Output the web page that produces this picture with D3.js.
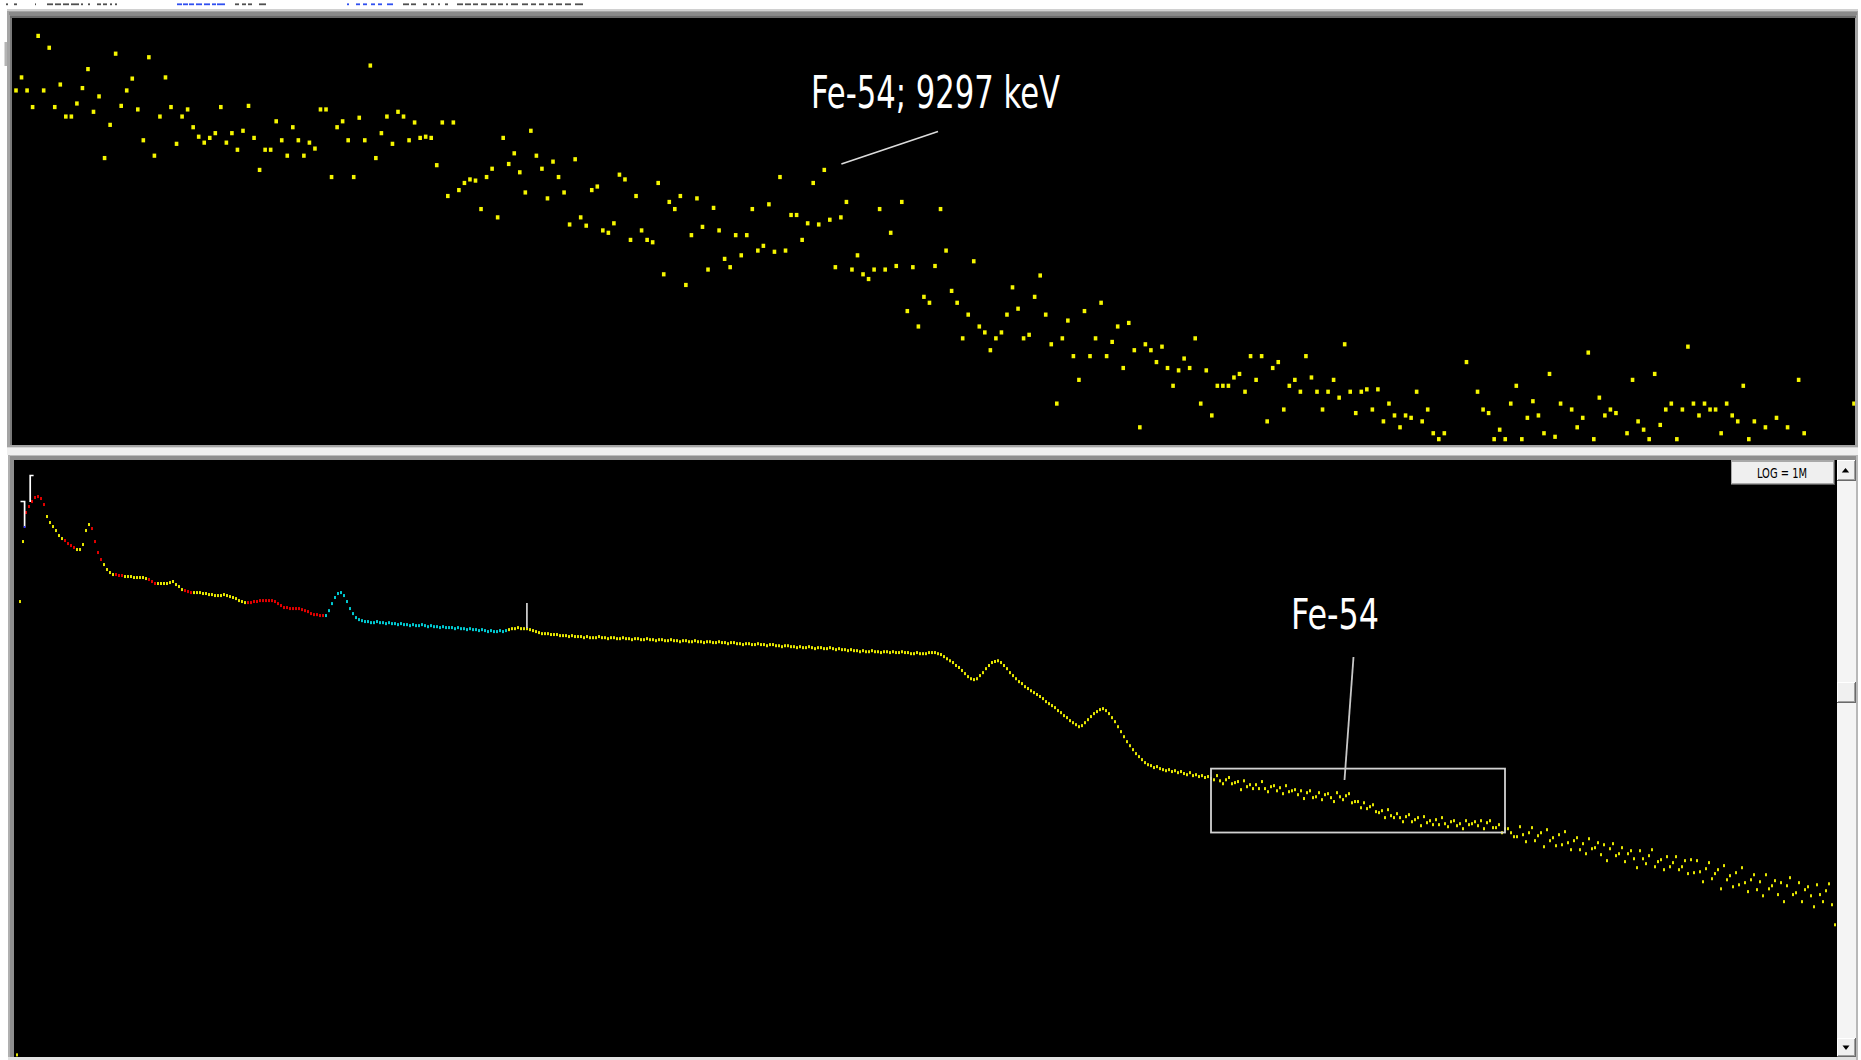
<!DOCTYPE html>
<html>
<head>
<meta charset="utf-8">
<script src="https://cdn.jsdelivr.net/npm/d3@7"></script>
<style>
  html, body { margin: 0; padding: 0; background: #ffffff; overflow: hidden; }
  svg { display: block; }
</style>
</head>
<body>
<svg id="chart" width="1861" height="1060"></svg>
<script>
// ---------------------------------------------------------------
// Data
// ---------------------------------------------------------------

// Expanded view: counts per channel in the Fe-54 window (linear scale)
const zoomCounts = [
  599,610,599,585,645,599,635,585,604,577,
  577,588,601,617,581,594,542,570,630,586,
  599,609,583,557,627,544,577,610,585,554,
  577,583,568,560,555,559,563,585,555,563,
  549,565,586,559,532,549,549,573,557,544,
  568,557,544,555,550,583,583,526,568,573,
  557,526,576,557,620,542,563,577,554,581,
  577,557,572,559,560,559,536,572,510,572,
  515,521,524,523,499,526,533,492,559,537,
  546,530,513,565,544,533,508,539,526,513,
  486,541,492,485,515,518,481,479,487,528,
  524,473,510,481,473,471,521,444,505,499,
  510,435,477,508,484,448,500,481,457,450,
  477,460,477,499,464,468,503,463,526,464,
  494,494,473,487,521,486,532,490,450,492,
  505,448,460,444,440,448,499,448,479,451,
  505,413,450,400,425,420,451,499,464,430,
  420,390,410,455,400,395,380,390,395,410,
  433,415,390,393,425,443,410,385,335,390,
  405,375,355,413,375,390,420,375,387,400,
  365,403,380,315,385,380,370,383,365,350,
  363,373,365,390,335,363,325,350,350,350,
  357,360,345,375,355,375,320,365,370,330,
  350,355,345,375,357,345,330,345,355,340,
  385,345,327,345,347,330,347,320,335,325,
  315,325,323,345,320,330,310,305,310,270,
  290,285,370,285,345,330,327,305,313,305,
  335,350,305,323,337,325,310,360,307,335,
  290,330,315,323,378,305,340,325,330,327,
  280,310,355,320,313,305,360,317,330,335,
  305,330,383,335,325,335,330,330,310,335,
  325,320,350,305,320,285,315,280,323,290,
  315,285,355,310,280,290,275,285,270,290,
  280,285,335
];
const zoomCountRange = [300, 660];

// Full spectrum, compressed to display bins (log scale, LOG = 1M)
const spectrumCounts = [
  0, 9.8, 64300, 205800, 361200, 405700, 447000, 483100, 492500, 473800,
  421800, 334200, 297500, 275300, 254700, 231200, 218100, 209800, 197900, 190400,
  183200, 176200, 176200, 194200, 254700, 286200, 264800, 205800, 166300, 145200,
  131700, 119600, 112800, 108500, 108500, 106500, 106500, 104400, 104400, 104400,
  102400, 102400, 102400, 102400, 100400, 98500, 94800, 91200, 91200, 91200,
  91200, 91200, 92900, 94800, 89400, 86000, 81100, 79500, 78000, 76500,
  76500, 76500, 76500, 75100, 75100, 73600, 73600, 72200, 72200, 72200,
  73600, 72200, 70800, 69500, 68100, 65500, 64300, 63000, 63000, 63000,
  64300, 64300, 65500, 65500, 65500, 65500, 65500, 64300, 61800, 59500,
  57200, 57200, 56100, 56100, 56100, 56100, 55000, 53900, 52900, 50900,
  49900, 49900, 49000, 49000, 49000, 53900, 61800, 69500, 75100, 76500,
  72200, 64300, 56100, 50900, 47100, 45300, 44400, 43600, 43600, 42700,
  42700, 43600, 42700, 42700, 41900, 42700, 41900, 41900, 41100, 41900,
  41100, 41100, 40300, 41100, 40300, 40300, 41100, 40300, 39500, 40300,
  39500, 39500, 38800, 39500, 38800, 38800, 38800, 38000, 38800, 38000,
  38000, 37300, 38000, 37300, 37300, 36600, 37300, 36600, 35900, 36600,
  35900, 35900, 36600, 35900, 36600, 37300, 38000, 38000, 38800, 38000,
  38000, 38000, 37300, 36600, 35900, 35200, 34500, 34500, 34500, 33900,
  33900, 33900, 33200, 33200, 33200, 32600, 33200, 32600, 32600, 32600,
  31900, 32600, 31900, 31900, 31900, 32600, 31900, 31900, 31300, 31900,
  31900, 31300, 31300, 31900, 31300, 31300, 30700, 31300, 31300, 30700,
  30700, 31300, 30700, 30700, 30100, 30700, 30700, 30100, 30100, 30700,
  30100, 30100, 29500, 30100, 30100, 29500, 29500, 30100, 29500, 29500,
  29000, 29500, 29500, 29000, 29000, 29500, 29000, 29000, 28400, 29000,
  29000, 28400, 28400, 27900, 28400, 28400, 27900, 27900, 28400, 27900,
  27900, 27300, 27900, 27900, 27300, 27300, 26800, 27300, 27300, 26800,
  26800, 26300, 26800, 26300, 26300, 26800, 26300, 25800, 26300, 26300,
  25800, 25800, 26300, 25800, 25300, 25800, 25300, 25300, 24800, 25300,
  24800, 24800, 24300, 24800, 24300, 24300, 24800, 24300, 24300, 23900,
  24300, 24300, 23900, 24300, 23900, 23900, 24300, 23900, 23900, 23400,
  23400, 23900, 23400, 23400, 23400, 23900, 23900, 23900, 23400, 23000,
  22100, 21200, 20400, 19700, 18600, 17900, 16900, 15900, 15000, 14400,
  14150, 14400, 15300, 16200, 17500, 18600, 19700, 20100, 20400, 19700,
  18600, 17500, 16200, 15300, 14400, 13600, 13100, 12350, 11900, 11400,
  11000, 10600, 10200, 9790, 9240, 8880, 8550, 8220, 7760, 7460,
  7040, 6770, 6390, 6140, 5910, 5680, 5800, 6140, 6510, 6910,
  7320, 7610, 7910, 8060, 7760, 7320, 6770, 6260, 5680, 5160,
  4680, 4250, 3930, 3640, 3370, 3180, 3000, 2830, 2720, 2670,
  2570, 2620, 2520, 2470, 2420, 2470, 2380, 2420, 2330, 2380,
  2290, 2240, 2330, 2200, 2240, 2160, 2200, 2120, 2160, 2080,
  2030, 2200, 1990, 1880, 2030, 2120, 1880, 1920, 1960, 1675,
  1990, 1775, 1845, 1710, 1845, 1710, 1960, 1710, 1610, 1775,
  1810, 1640, 1740, 1550, 1810, 1610, 1640, 1675, 1520, 1640,
  1410, 1580, 1640, 1435, 1460, 1580, 1380, 1520, 1550, 1435,
  1330, 1580, 1460, 1380, 1490, 1550, 1300, 1330, 1330, 1180,
  1300, 1160, 1205, 1250, 1094, 1073, 1115, 974, 1137, 1012,
  974, 1052, 974, 900, 993, 1032, 900, 936, 974, 833,
  993, 883, 918, 850, 936, 850, 974, 866, 817, 900,
  918, 833, 866, 786, 918, 850, 866, 900, 833, 918,
  786, 883, 918, 802, 802, 850, 727, 786, 786, 727,
  673, 673, 817, 700, 611, 727, 802, 623, 686, 727,
  554, 771, 623, 660, 565, 700, 576, 742, 599, 523,
  623, 660, 523, 588, 484, 647, 533, 544, 599, 475,
  576, 423, 533, 588, 466, 484, 544, 415, 484, 513,
  439, 369, 513, 439, 399, 466, 523, 376, 415, 431,
  355, 457, 376, 407, 457, 355, 376, 423, 329, 431,
  335, 423, 341, 281, 362, 407, 298, 329, 355, 245,
  384, 292, 316, 255, 335, 265, 369, 276, 232, 292,
  322, 241, 281, 214, 322, 245, 260, 287, 219, 276,
  191, 260, 304, 219, 227, 276, 191, 241, 255, 214,
  173, 265, 219, 191, 236, 270, 180, 122
];
const spectrumLogRange = [9.4, 1e6];

// Regions of interest on the full spectrum (display bins, inclusive)
const roiStart = [4, 17, 26, 34, 45, 57, 78, 104];
const roiEnd   = [10, 20, 29, 36, 47, 59, 103, 164];
const roiKind  = ["red", "red", "red", "red", "red", "red", "red", "cyan"];

// Fe-54 window drawn on the full spectrum (display bins and counts)
const windowBins = [399, 497];
const windowCounts = [730, 2520];

// Labels
const zoomLabel = "Fe-54; 9297 keV";
const spectrumLabel = "Fe-54";
const scaleButtonLabel = "LOG = 1M";
const markerBin = 171;

// ---------------------------------------------------------------
// Layout & scales
// ---------------------------------------------------------------
const svg = d3.select("#chart");
const W = 1861, H = 1060;

const topPlot = { x0: 12, x1: 1855, y0: 18, y1: 445 };
const botPlot = { x0: 14, x1: 1837, y0: 460, y1: 1057 };

const xTop = d3.scaleLinear().domain([0, zoomCounts.length - 1]).range([16, 1854]);
const yTop = d3.scaleLinear().domain(zoomCountRange).range([topPlot.y1, topPlot.y0]);

const xBot = d3.scaleLinear().domain([0, spectrumCounts.length - 1]).range([14, 1835]);
const yBot = d3.scaleLog().domain(spectrumLogRange).range([botPlot.y1, botPlot.y0]);

const colors = { yellow: "#e6e600", red: "#e00000", cyan: "#00c8d0" };
function binColor(j) {
  for (let k = 0; k < roiStart.length; k++) {
    if (j >= roiStart[k] && j <= roiEnd[k]) return colors[roiKind[k]];
  }
  return colors.yellow;
}

// ---------------------------------------------------------------
// Window chrome
// ---------------------------------------------------------------
svg.append("rect").attr("width", W).attr("height", H).attr("fill", "#ffffff");

// clipped menu line at the very top
const menuInk = [
  [6,8,"k"],[14,17,"k"],[35,36,"k"],[47,53,"k"],[55,61,"k"],[63,69,"k"],[71,79,"k"],
  [81,83,"k"],[88,90,"k"],[97,101,"k"],[103,107,"k"],[110,112,"k"],[115,117,"k"],
  [177,182,"b"],[183,188,"b"],[189,194,"b"],[196,202,"b"],[204,210,"b"],[212,216,"b"],[217,225,"b"],
  [235,239,"k"],[242,246,"k"],[248,252,"k"],[259,266,"k"],
  [347,349,"b"],[356,360,"b"],[363,367,"b"],[371,375,"b"],[378,382,"b"],[387,393,"b"],
  [403,409,"k"],[411,416,"k"],[423,427,"k"],[431,434,"k"],[438,440,"k"],[445,448,"k"],
  [457,463,"k"],[465,471,"k"],[473,478,"k"],[481,487,"k"],[490,496,"k"],[498,503,"k"],
  [506,508,"k"],[511,518,"k"],[522,528,"k"],[531,536,"k"],[539,544,"k"],[548,553,"k"],
  [556,562,"k"],[565,571,"k"],[575,583,"k"]
];
svg.append("g").selectAll("rect").data(menuInk).join("rect")
  .attr("x", d => d[0]).attr("y", 3.4).attr("width", d => d[1] - d[0]).attr("height", 1.8)
  .attr("fill", d => d[2] === "b" ? "#3050f0" : "#505050");

// small splitter grip left of the top pane
svg.append("rect").attr("x", 4.5).attr("y", 42).attr("width", 2.5).attr("height", 24).attr("fill", "#b4b4b4");

// top pane frame
svg.append("rect").attr("x", 7).attr("y", 9).attr("width", 1851).attr("height", 438).attr("fill", "#a4a4a4");
svg.append("rect").attr("x", 7).attr("y", 9).attr("width", 1851).attr("height", 2).attr("fill", "#d0d0d0");
svg.append("rect").attr("x", 9).attr("y", 12).attr("width", 1848).attr("height", 3).attr("fill", "#8a8a8a");
svg.append("rect").attr("x", 10).attr("y", 15.5).attr("width", 1846).attr("height", 2.5).attr("fill", "#6a6a6a");
svg.append("rect").attr("x", 10).attr("y", 18).attr("width", 2).attr("height", 427).attr("fill", "#7a7a7a");
svg.append("rect").attr("x", topPlot.x0).attr("y", topPlot.y0)
  .attr("width", topPlot.x1 - topPlot.x0).attr("height", topPlot.y1 - topPlot.y0).attr("fill", "#000000");

// splitter bar
svg.append("rect").attr("x", 7).attr("y", 447).attr("width", 1851).attr("height", 8).attr("fill", "#f0f0f0");
svg.append("rect").attr("x", 7).attr("y", 447).attr("width", 1851).attr("height", 1).attr("fill", "#d6d6d6");

// bottom pane frame
svg.append("rect").attr("x", 8).attr("y", 455).attr("width", 1850).attr("height", 602).attr("fill", "#8e8e8e");
svg.append("rect").attr("x", 8).attr("y", 455).attr("width", 1850).attr("height", 1).attr("fill", "#bdbdbd");
svg.append("rect").attr("x", 8).attr("y", 455).attr("width", 2).attr("height", 602).attr("fill", "#b0b0b0");
svg.append("rect").attr("x", botPlot.x0).attr("y", botPlot.y0)
  .attr("width", botPlot.x1 - botPlot.x0).attr("height", botPlot.y1 - botPlot.y0).attr("fill", "#000000");
svg.append("rect").attr("x", 8).attr("y", 1057).attr("width", 1850).attr("height", 3).attr("fill", "#e2e2e2");

// vertical scrollbar
svg.append("rect").attr("x", 1837).attr("y", 460).attr("width", 20).attr("height", 597).attr("fill", "#f4f4f4");
svg.append("rect").attr("x", 1856).attr("y", 455).attr("width", 2).attr("height", 605).attr("fill", "#b8b8b8");

function bevel(x, y, w, h) {
  const g = svg.append("g");
  g.append("rect").attr("x", x).attr("y", y).attr("width", w).attr("height", h).attr("fill", "#6a6a6a");
  g.append("rect").attr("x", x).attr("y", y).attr("width", w - 1).attr("height", h - 1).attr("fill", "#ffffff");
  g.append("rect").attr("x", x + 1).attr("y", y + 1).attr("width", w - 2).attr("height", h - 2).attr("fill", "#a0a0a0");
  g.append("rect").attr("x", x + 1).attr("y", y + 1).attr("width", w - 3).attr("height", h - 3).attr("fill", "#f0f0f0");
  return g;
}
bevel(1837, 460, 19, 21);
svg.append("path").attr("d", "M1841.8,472.5 L1849.2,472.5 L1845.5,468 Z").attr("fill", "#000");
bevel(1837, 682, 19, 21);
bevel(1837, 1038, 19, 19);
svg.append("path").attr("d", "M1842.5,1045.5 L1849.5,1045.5 L1846,1050 Z").attr("fill", "#000");

// ---------------------------------------------------------------
// Clip regions
// ---------------------------------------------------------------
const defs = svg.append("defs");
defs.append("clipPath").attr("id", "clipTop").append("rect")
  .attr("x", topPlot.x0).attr("y", topPlot.y0)
  .attr("width", topPlot.x1 - topPlot.x0).attr("height", topPlot.y1 - topPlot.y0);
defs.append("clipPath").attr("id", "clipBot").append("rect")
  .attr("x", botPlot.x0).attr("y", botPlot.y0)
  .attr("width", botPlot.x1 - botPlot.x0).attr("height", botPlot.y1 - botPlot.y0);

// ---------------------------------------------------------------
// Expanded window: one square marker per channel
// ---------------------------------------------------------------
const topG = svg.append("g").attr("clip-path", "url(#clipTop)");
topG.selectAll("rect.pt")
  .data(zoomCounts.map((v, i) => ({ i, v })).filter(d => d.v >= zoomCountRange[0]))
  .join("rect")
  .attr("class", "pt")
  .attr("x", d => xTop(d.i) - 1.8)
  .attr("y", d => yTop(d.v) - 2)
  .attr("width", 3.6)
  .attr("height", 4.2)
  .attr("fill", "#f6f600");

// annotation in the expanded window
topG.append("line")
  .attr("x1", xTop(149) + 0.5).attr("y1", yTop(537))
  .attr("x2", 938).attr("y2", 131.5)
  .attr("stroke", "#dcdcdc").attr("stroke-width", 1.6);
svg.append("text")
  .attr("x", 811).attr("y", 108)
  .attr("font-family", "'Liberation Sans Narrow', 'DejaVu Sans Condensed', 'Open Sans', sans-serif")
  .attr("font-size", 44)
  .attr("fill", "#ffffff")
  .attr("textLength", 249).attr("lengthAdjust", "spacingAndGlyphs")
  .text(zoomLabel);

// ---------------------------------------------------------------
// Full spectrum (log scale)
// ---------------------------------------------------------------
const botG = svg.append("g").attr("clip-path", "url(#clipBot)");
botG.selectAll("rect.ch")
  .data(spectrumCounts.map((v, j) => ({ j, v })).filter(d => d.v > 0))
  .join("rect")
  .attr("class", "ch")
  .attr("x", d => xBot(d.j) - 1)
  .attr("y", d => yBot(d.v) - 1.5)
  .attr("width", 2)
  .attr("height", 3)
  .attr("fill", d => binColor(d.j));

// ROI brackets at the start of the spectrum
botG.append("path").attr("d", "M20.5,501.5 H24.6 V527.5")
  .attr("fill", "none").attr("stroke", "#ffffff").attr("stroke-width", 1.7);
botG.append("rect").attr("x", 23.8).attr("y", 526).attr("width", 1.6).attr("height", 2).attr("fill", "#2a2aff");
botG.append("path").attr("d", "M33.6,475.5 H30.2 V502")
  .attr("fill", "none").attr("stroke", "#ffffff").attr("stroke-width", 1.7);

// cursor marker
botG.append("rect")
  .attr("x", xBot(markerBin) - 1).attr("y", 603)
  .attr("width", 1.8).attr("height", 25)
  .attr("fill", "#c8c8c8");

// Fe-54 window box and label
botG.append("rect")
  .attr("x", xBot(windowBins[0])).attr("y", yBot(windowCounts[1]))
  .attr("width", xBot(windowBins[1]) - xBot(windowBins[0]))
  .attr("height", yBot(windowCounts[0]) - yBot(windowCounts[1]))
  .attr("fill", "none").attr("stroke", "#d2d2d2").attr("stroke-width", 1.8);
botG.append("line")
  .attr("x1", 1353.5).attr("y1", 657)
  .attr("x2", 1344.5).attr("y2", 780)
  .attr("stroke", "#c8c8c8").attr("stroke-width", 1.8);
svg.append("text")
  .attr("x", 1291).attr("y", 629)
  .attr("font-family", "'Liberation Sans Narrow', 'DejaVu Sans Condensed', 'Open Sans', sans-serif")
  .attr("font-size", 42)
  .attr("fill", "#ffffff")
  .attr("textLength", 88).attr("lengthAdjust", "spacingAndGlyphs")
  .text(spectrumLabel);

// scale button
const btn = svg.append("g");
btn.append("rect").attr("x", 1731).attr("y", 460).attr("width", 104).attr("height", 25).attr("fill", "#5a5a5a");
btn.append("rect").attr("x", 1731).attr("y", 460).attr("width", 103).attr("height", 24).attr("fill", "#a8a8a8");
btn.append("rect").attr("x", 1732).attr("y", 462).attr("width", 101).attr("height", 21).attr("fill", "#efefef");
btn.append("text")
  .attr("x", 1757).attr("y", 477.5)
  .attr("font-family", "'Liberation Sans Narrow', 'DejaVu Sans Condensed', 'Liberation Sans', sans-serif")
  .attr("font-size", 14)
  .attr("fill", "#000000")
  .attr("textLength", 50).attr("lengthAdjust", "spacingAndGlyphs")
  .text(scaleButtonLabel);
</script>
</body>
</html>
